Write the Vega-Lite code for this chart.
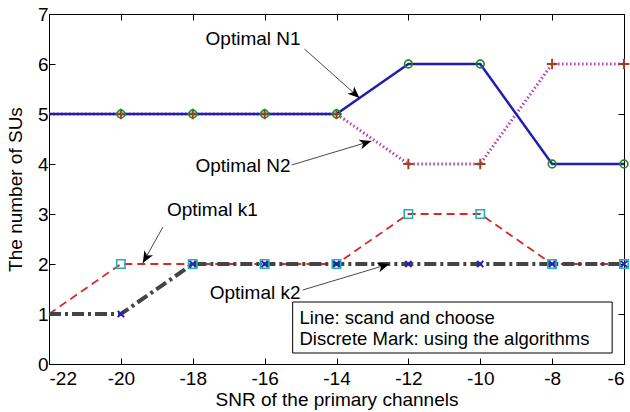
{
  "$schema": "https://vega.github.io/schema/vega-lite/v6.json",
  "width": 575,
  "height": 350,
  "autosize": {"type": "none"},
  "padding": {"left": 49, "top": 14, "right": 6, "bottom": 48},
  "background": "white",
  "config": {
    "view": {"stroke": "black", "strokeWidth": 1},
    "font": "Liberation Sans",
    "axis": {
      "domainColor": "black", "tickColor": "black", "grid": false,
      "labelFont": "Liberation Sans", "labelFontSize": 19, "labelColor": "black",
      "titleFont": "Liberation Sans", "titleFontSize": 19, "titleFontWeight": "normal", "titleColor": "black",
      "tickSize": -6, "labelPadding": 5
    }
  },
  "datasets": {
    "lines": [
      {"series": "N1", "x": -22, "y": 5}, {"series": "N1", "x": -20, "y": 5}, {"series": "N1", "x": -18, "y": 5},
      {"series": "N1", "x": -16, "y": 5}, {"series": "N1", "x": -14, "y": 5}, {"series": "N1", "x": -12, "y": 6},
      {"series": "N1", "x": -10, "y": 6}, {"series": "N1", "x": -8, "y": 4}, {"series": "N1", "x": -6, "y": 4},
      {"series": "N2", "x": -22, "y": 5}, {"series": "N2", "x": -20, "y": 5}, {"series": "N2", "x": -18, "y": 5},
      {"series": "N2", "x": -16, "y": 5}, {"series": "N2", "x": -14, "y": 5}, {"series": "N2", "x": -12, "y": 4},
      {"series": "N2", "x": -10, "y": 4}, {"series": "N2", "x": -8, "y": 6}, {"series": "N2", "x": -6, "y": 6},
      {"series": "k1", "x": -22, "y": 1}, {"series": "k1", "x": -20, "y": 2}, {"series": "k1", "x": -18, "y": 2},
      {"series": "k1", "x": -16, "y": 2}, {"series": "k1", "x": -14, "y": 2}, {"series": "k1", "x": -12, "y": 3},
      {"series": "k1", "x": -10, "y": 3}, {"series": "k1", "x": -8, "y": 2}, {"series": "k1", "x": -6, "y": 2},
      {"series": "k2", "x": -22, "y": 1}, {"series": "k2", "x": -20, "y": 1}, {"series": "k2", "x": -18, "y": 2},
      {"series": "k2", "x": -16, "y": 2}, {"series": "k2", "x": -14, "y": 2}, {"series": "k2", "x": -12, "y": 2},
      {"series": "k2", "x": -10, "y": 2}, {"series": "k2", "x": -8, "y": 2}, {"series": "k2", "x": -6, "y": 2}
    ],
    "notes": [
      {"label": "Optimal N1", "x": -15.0, "y": 6.5},
      {"label": "Optimal N2", "x": -15.28, "y": 3.97},
      {"label": "Optimal k1", "x": -16.19, "y": 3.08},
      {"label": "Optimal k2", "x": -15.0, "y": 1.42}
    ],
    "arrows": [
      {"name": "N1", "x": -14.89, "y": 6.3, "x2": -13.36, "y2": 5.32},
      {"name": "N2", "x": -15.25, "y": 3.98, "x2": -13.03, "y2": 4.46},
      {"name": "k1", "x": -18.83, "y": 2.74, "x2": -19.39, "y2": 2.02},
      {"name": "k2", "x": -14.94, "y": 1.48, "x2": -12.53, "y2": 2.0}
    ],
    "box": [{"x": -15.22, "x2": -6.33, "y": 1.24, "y2": 0.22}],
    "boxtext": [
      {"label": "Line: scand and choose", "x": -15.03, "y": 0.92},
      {"label": "Discrete Mark: using the algorithms", "x": -15.03, "y": 0.5}
    ]
  },
  "resolve": {"axis": {"x": "independent", "y": "independent"}},
  "layer": [
    {
      "data": {"name": "lines"},
      "transform": [{"filter": "datum.series == 'N2'"}],
      "mark": {"type": "line", "color": "#b43cb4", "strokeWidth": 3, "strokeDash": [1.5, 2.5]},
      "encoding": {
        "x": {"field": "x", "type": "quantitative",
              "axis": {"orient": "top", "values": [-22, -20, -18, -16, -14, -12, -10, -8, -6], "labels": false, "title": null, "domain": false}},
        "y": {"field": "y", "type": "quantitative",
              "axis": {"orient": "right", "values": [0, 1, 2, 3, 4, 5, 6, 7], "labels": false, "title": null, "domain": false}}
      }
    },
    {
      "data": {"name": "lines"},
      "transform": [{"filter": "datum.series == 'N1'"}],
      "mark": {"type": "line", "color": "#1e1eb0", "strokeWidth": 2.4},
      "encoding": {
        "x": {"field": "x", "type": "quantitative", "scale": {"domain": [-22, -6], "nice": false, "zero": false},
              "axis": {"orient": "bottom", "values": [-22, -20, -18, -16, -14, -12, -10, -8, -6], "labelExpr": "replace(datum.label, '\u2212', '-')", "labelPadding": 11, "title": "SNR of the primary channels", "titlePadding": 2}},
        "y": {"field": "y", "type": "quantitative", "scale": {"domain": [0, 7], "nice": false},
              "axis": {"orient": "left", "values": [0, 1, 2, 3, 4, 5, 6, 7], "labelPadding": 7, "title": "The number of SUs", "titlePadding": 12}}
      }
    },
    {
      "data": {"name": "lines"},
      "transform": [{"filter": "datum.series == 'k1'"}],
      "mark": {"type": "line", "color": "#d42a2a", "strokeWidth": 1.8, "strokeDash": [8, 5]},
      "encoding": {
        "x": {"field": "x", "type": "quantitative", "axis": null},
        "y": {"field": "y", "type": "quantitative", "axis": null}
      }
    },
    {
      "data": {"name": "lines"},
      "transform": [{"filter": "datum.series == 'k2'"}],
      "mark": {"type": "line", "color": "#444444", "strokeWidth": 4, "strokeDash": [12, 4, 3, 4]},
      "encoding": {
        "x": {"field": "x", "type": "quantitative", "axis": null},
        "y": {"field": "y", "type": "quantitative", "axis": null}
      }
    },
    {
      "data": {"name": "lines"},
      "transform": [{"filter": "datum.series == 'N2' && datum.x > -22"}],
      "mark": {"type": "point", "shape": "M-1,0L1,0M0,-1L0,1", "filled": false, "color": "#a0401e", "strokeWidth": 2, "size": 110, "opacity": 1},
      "encoding": {
        "x": {"field": "x", "type": "quantitative", "axis": null},
        "y": {"field": "y", "type": "quantitative", "axis": null}
      }
    },
    {
      "data": {"name": "lines"},
      "transform": [{"filter": "datum.series == 'N1' && datum.x > -22"}],
      "mark": {"type": "point", "shape": "circle", "filled": false, "color": "#1a8a1a", "strokeWidth": 1.6, "size": 60, "opacity": 1},
      "encoding": {
        "x": {"field": "x", "type": "quantitative", "axis": null},
        "y": {"field": "y", "type": "quantitative", "axis": null}
      }
    },
    {
      "data": {"name": "lines"},
      "transform": [{"filter": "datum.series == 'k1' && datum.x > -22"}],
      "mark": {"type": "point", "shape": "square", "filled": false, "color": "#22b0b0", "strokeWidth": 1.6, "size": 70, "opacity": 1},
      "encoding": {
        "x": {"field": "x", "type": "quantitative", "axis": null},
        "y": {"field": "y", "type": "quantitative", "axis": null}
      }
    },
    {
      "data": {"name": "lines"},
      "transform": [{"filter": "datum.series == 'k2' && datum.x > -22"}],
      "mark": {"type": "point", "shape": "M-1,-1L1,1M-1,1L1,-1", "filled": false, "color": "#2020c8", "strokeWidth": 2, "size": 40, "opacity": 1},
      "encoding": {
        "x": {"field": "x", "type": "quantitative", "axis": null},
        "y": {"field": "y", "type": "quantitative", "axis": null}
      }
    },
    {
      "data": {"name": "arrows"},
      "mark": {"type": "rule", "color": "#333333", "strokeWidth": 0.9},
      "encoding": {
        "x": {"field": "x", "type": "quantitative", "axis": null},
        "y": {"field": "y", "type": "quantitative", "axis": null},
        "x2": {"field": "x2"},
        "y2": {"field": "y2"}
      }
    },
    {
      "data": {"name": "arrows"},
      "transform": [{"filter": "datum.name == 'N1'"}],
      "mark": {"type": "point", "shape": "M0,0L-1,-0.42L-0.72,0L-1,0.42Z", "filled": true, "color": "black", "opacity": 1, "size": 560, "angle": 42},
      "encoding": {
        "x": {"field": "x2", "type": "quantitative", "axis": null},
        "y": {"field": "y2", "type": "quantitative", "axis": null}
      }
    },
    {
      "data": {"name": "arrows"},
      "transform": [{"filter": "datum.name == 'N2' || datum.name == 'k2'"}],
      "mark": {"type": "point", "shape": "M0,0L-1,-0.42L-0.72,0L-1,0.42Z", "filled": true, "color": "black", "opacity": 1, "size": 560, "angle": 343},
      "encoding": {
        "x": {"field": "x2", "type": "quantitative", "axis": null},
        "y": {"field": "y2", "type": "quantitative", "axis": null}
      }
    },
    {
      "data": {"name": "arrows"},
      "transform": [{"filter": "datum.name == 'k1'"}],
      "mark": {"type": "point", "shape": "M0,0L-1,-0.42L-0.72,0L-1,0.42Z", "filled": true, "color": "black", "opacity": 1, "size": 560, "angle": 120},
      "encoding": {
        "x": {"field": "x2", "type": "quantitative", "axis": null},
        "y": {"field": "y2", "type": "quantitative", "axis": null}
      }
    },
    {
      "data": {"name": "notes"},
      "mark": {"type": "text", "align": "right", "baseline": "middle", "fontSize": 19, "font": "Liberation Sans", "color": "black"},
      "encoding": {
        "x": {"field": "x", "type": "quantitative", "axis": null},
        "y": {"field": "y", "type": "quantitative", "axis": null},
        "text": {"field": "label"}
      }
    },
    {
      "data": {"name": "box"},
      "mark": {"type": "rect", "fill": "white", "stroke": "black", "strokeWidth": 1},
      "encoding": {
        "x": {"field": "x", "type": "quantitative", "axis": null},
        "x2": {"field": "x2"},
        "y": {"field": "y", "type": "quantitative", "axis": null},
        "y2": {"field": "y2"}
      }
    },
    {
      "data": {"name": "boxtext"},
      "mark": {"type": "text", "align": "left", "baseline": "middle", "fontSize": 18.5, "font": "Liberation Sans", "color": "black"},
      "encoding": {
        "x": {"field": "x", "type": "quantitative", "axis": null},
        "y": {"field": "y", "type": "quantitative", "axis": null},
        "text": {"field": "label"}
      }
    }
  ]
}
